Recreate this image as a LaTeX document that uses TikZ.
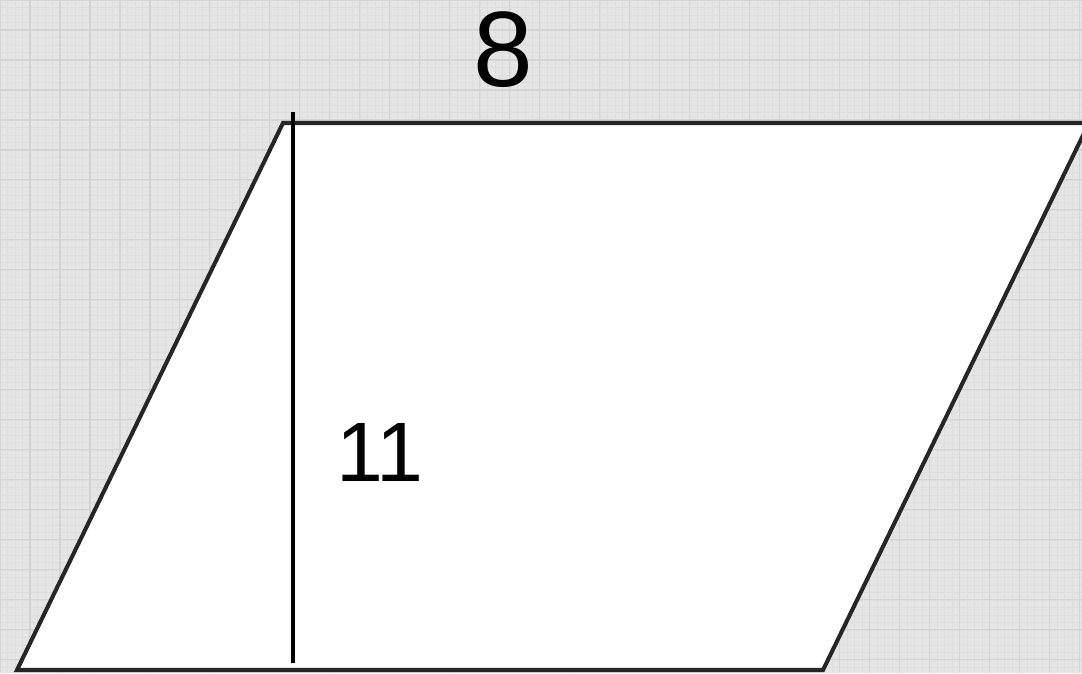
\documentclass[tikz,border=0pt]{standalone}
\usepackage{fontspec}
\setmainfont{Liberation Sans}
\definecolor{paper}{RGB}{229,229,229}
\definecolor{minorline}{RGB}{222,222,222}
\definecolor{majorline}{RGB}{212,212,212}
\begin{document}
\begin{tikzpicture}[x=0.02cm, y=-0.02cm,
    edge/.style={line width=2.3pt, draw=black!85},
    height/.style={line width=2pt, draw=black},
    label/.style={inner sep=0pt, font=\fontsize{#1}{#1}\selectfont}]
    % Hintergrund
    \useasboundingbox (0, 0) rectangle (1082, 673);
    \fill[paper] (0, 0) rectangle (1082, 673);
    \draw[minorline, line width=0.4pt, step=0.15cm] (0, 0) grid (21.64cm, -13.46cm);
    \draw[majorline, line width=0.6pt, step=0.6cm] (0, 0) grid (21.64cm, -13.46cm);

    % Parallelogramm
    \coordinate (A) at (17, 670);
    \coordinate (B) at (823, 670);
    \coordinate (C) at (1089, 123);
    \coordinate (D) at (283, 123);
    \filldraw[edge, fill=white] (A) -- (B) -- (C) -- (D) -- cycle;

    % Hoehe
    \coordinate (T) at (293, 112);
    \coordinate (F) at (293, 663);
    \draw[height] (T) -- (F);

    % Beschriftung
    \node[label=61] (base) at (503, 50) {8};
    \node[label=48] (h) at (380, 452) {11};
\end{tikzpicture}
\end{document}
